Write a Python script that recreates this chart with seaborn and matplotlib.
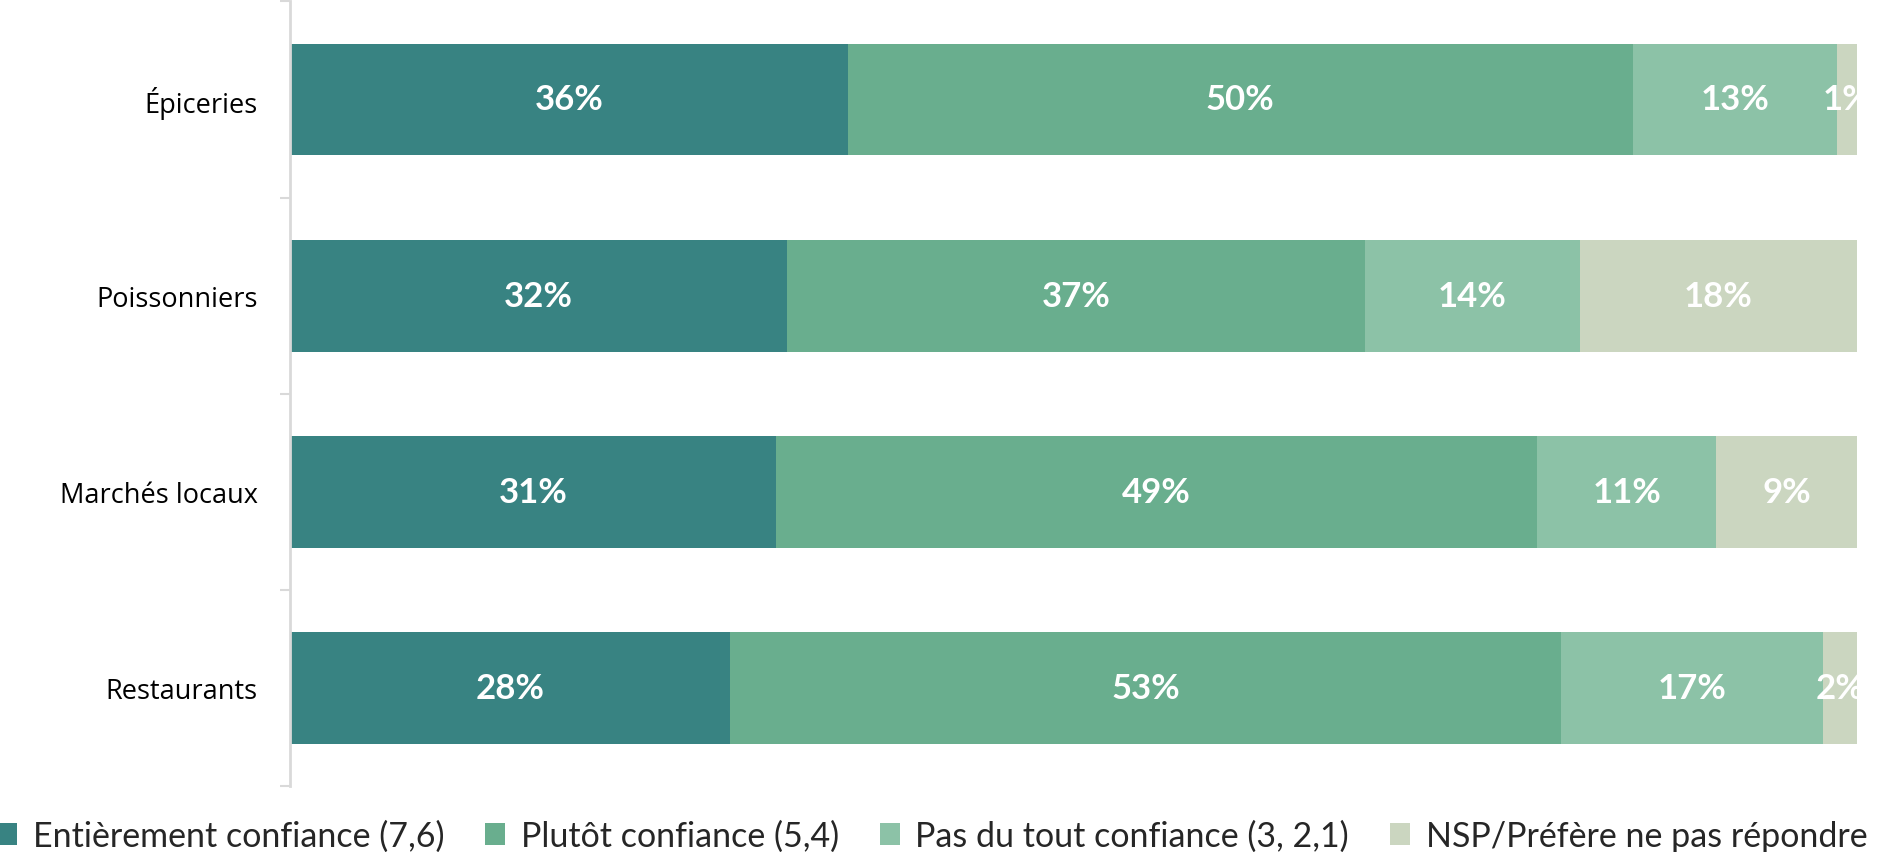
import numpy as np
import pandas as pd
import matplotlib.pyplot as plt
import seaborn as sns
from matplotlib.patches import Patch

categories = ['Épiceries', 'Poissonniers', 'Marchés locaux', 'Restaurants']
series = ['Entièrement confiance (7,6)', 'Plutôt confiance (5,4)',
          'Pas du tout confiance (3, 2,1)', 'NSP/Préfère ne pas répondre']
entierement = [35.6, 31.7, 31.0, 28.1]
plutot = [50.1, 36.9, 48.6, 53.0]
pas_du_tout = [13.0, 13.7, 11.4, 16.7]
nsp = [1.3, 17.7, 9.0, 2.2]
colors = ['#388382', '#69AE8E', '#8CC2A7', '#CBD6C0']

df = pd.DataFrame({'cat': categories, series[0]: entierement, series[1]: plutot,
                   series[2]: pas_du_tout, series[3]: nsp})

sns.set_theme(style='white')
plt.rcParams['font.family'] = ['Lato', 'DejaVu Sans']

fig = plt.figure(figsize=(18.79, 8.53), dpi=100)
ax = fig.add_axes([0.1543, 0.0774, 0.834, 0.9198])

cum = df[series].cumsum(axis=1)
# draw longest stack first so shorter ones sit on top
for i in range(len(series) - 1, -1, -1):
    sns.barplot(x=cum[series[i]], y=df['cat'], color=colors[i], width=0.57,
                orient='y', ax=ax, saturation=1, linewidth=0)

for r in range(len(categories)):
    left = 0
    for s in series:
        v = df.loc[r, s]
        ax.text(left + v / 2, r, f'{v:.0f}%', ha='center', va='center',
                color='white', fontsize=25, fontweight='bold', clip_on=True)
        left += v

ax.set_xlim(0, 100)
ax.set_ylim(3.5, -0.5)
ax.set_xlabel('')
ax.set_ylabel('')
ax.set_xticks([])
for sp in ['top', 'right', 'bottom']:
    ax.spines[sp].set_visible(False)
ax.spines['left'].set_color('#D9D9D9')
ax.spines['left'].set_linewidth(2)
ax.set_yticks(range(len(categories)))
ax.set_yticklabels(categories, fontsize=19.5, color='black', family=['Open Sans', 'DejaVu Sans'])
ax.set_yticks(np.arange(-0.5, len(categories), 1), minor=True)
ax.tick_params(axis='y', which='major', length=0, pad=23)
ax.tick_params(axis='y', which='minor', length=7, width=1.5, color='#D9D9D9', left=True)

handles = [Patch(facecolor=c, edgecolor='none') for c in colors]
fig.legend(handles, series, loc='lower left', bbox_to_anchor=(-0.0125, -0.024), ncol=4,
           frameon=False, fontsize=24.5, handlelength=0.6, handleheight=0.6,
           handletextpad=0.45, columnspacing=1.2, borderaxespad=0.2)

fig.savefig('out.png', dpi=100)
